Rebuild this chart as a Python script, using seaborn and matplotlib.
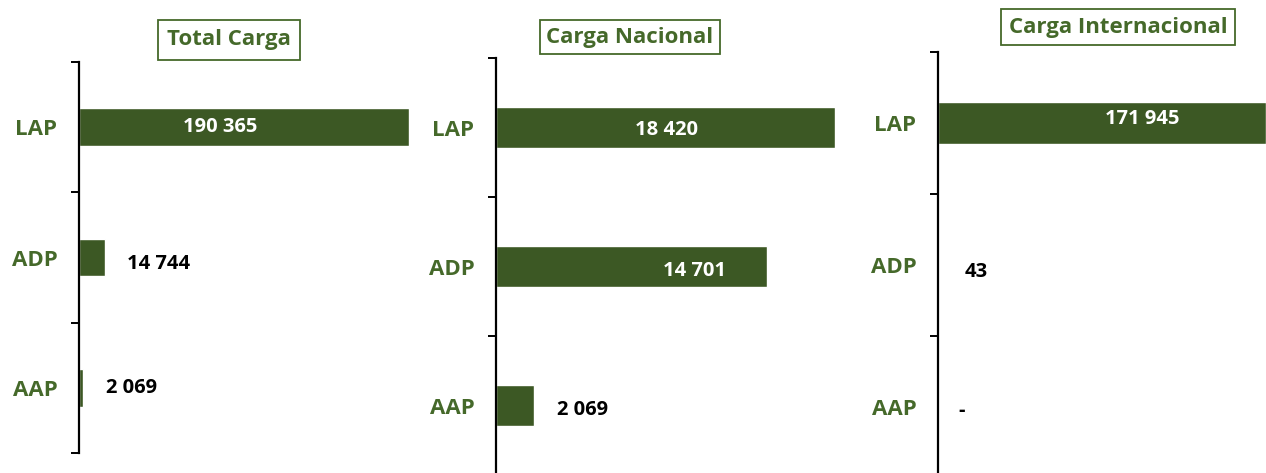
import matplotlib
matplotlib.use("Agg")
import matplotlib.pyplot as plt
import pandas as pd
import seaborn as sns

# data
categories = ["LAP", "ADP", "AAP"]
total_carga = [190365, 14744, 2069]
carga_nacional = [18420, 14701, 2069]
carga_internacional = [171945, 43, 0]

total_labels = ["190 365", "14 744", "2 069"]
nacional_labels = ["18 420", "14 701", "2 069"]
internacional_labels = ["171 945", "43", "-"]

titles = ["Total Carga", "Carga Nacional", "Carga Internacional"]

GREEN = "#3c5824"
LABEL_GREEN = "#45692a"
FONT = ["Open Sans", "DejaVu Sans"]

sns.set_style("white")
plt.rcParams["font.family"] = FONT

W, H = 1266, 473
fig = plt.figure(figsize=(W / 100, H / 100), dpi=100)


def px_axes(left, top, width, height):
    return fig.add_axes([left / W, (H - top - height) / H, width / W, height / H])


# panel layout (pixels): left, top, width, height
panels = [
    dict(box=(79, 62, 330, 391), values=total_carga, labels=total_labels,
         title=titles[0], title_xy=(229, 40), title_pad=0.42,
         lab_x=[0.427, 0.24, 0.158], lab_dy=[0.0, 0.05, 0.0],
         lab_color=["white", "black", "black"]),
    dict(box=(496, 58, 339, 417), values=carga_nacional, labels=nacional_labels,
         title=titles[1], title_xy=(630, 37), title_pad=0.3,
         lab_x=[0.504, 0.587, 0.254], lab_dy=[0.02, 0.03, 0.03],
         lab_color=["white", "white", "black"]),
    dict(box=(938, 52, 328, 426), values=carga_internacional, labels=internacional_labels,
         title=titles[2], title_xy=(1118, 27), title_pad=0.35,
         lab_x=[0.622, 0.116, 0.073], lab_dy=[-0.03, 0.05, 0.03],
         lab_color=["white", "black", "black"]),
]

for p in panels:
    ax = px_axes(*p["box"])
    df = pd.DataFrame({"cat": categories, "val": p["values"]})
    sns.barplot(data=df, x="val", y="cat", orient="h", color=GREEN,
                saturation=1, width=0.29, ax=ax)
    ax.set_xlim(0, max(p["values"]))
    ax.set_ylim(2.5, -0.5)
    ax.set_xlabel("")
    ax.set_ylabel("")
    ax.set_xticks([])
    for s in ["top", "right", "bottom"]:
        ax.spines[s].set_visible(False)
    ax.spines["left"].set_color("black")
    ax.spines["left"].set_linewidth(1.6)
    # boundary ticks, labels at the category centres
    ax.set_yticks([-0.5, 0.5, 1.5, 2.5])
    ax.set_yticklabels([])
    ax.tick_params(axis="y", which="major", direction="out", length=6,
                   width=1.4, color="black", left=True)
    ax.set_yticks([0, 1, 2], minor=True)
    ax.set_yticklabels(categories, minor=True)
    ax.tick_params(axis="y", which="minor", length=0, pad=15.5,
                   labelsize=16, labelcolor=LABEL_GREEN)
    for t in ax.get_yticklabels(minor=True):
        t.set_fontweight("bold")
    ax.patch.set_alpha(0)

    for i, lab in enumerate(p["labels"]):
        ax.text(p["lab_x"][i], i + p["lab_dy"][i], lab,
                transform=ax.get_yaxis_transform(),
                ha="center", va="center", fontsize=14.5, fontweight="bold",
                color=p["lab_color"][i])

    tx, ty = p["title_xy"]
    fig.text(tx / W, 1 - ty / H, p["title"], ha="center", va="center",
             fontsize=16, fontweight="bold", color=LABEL_GREEN,
             bbox=dict(boxstyle=f"square,pad={p['title_pad']}", facecolor="white",
                       edgecolor=LABEL_GREEN, linewidth=1.3))

fig.savefig("out.png", dpi=100)
